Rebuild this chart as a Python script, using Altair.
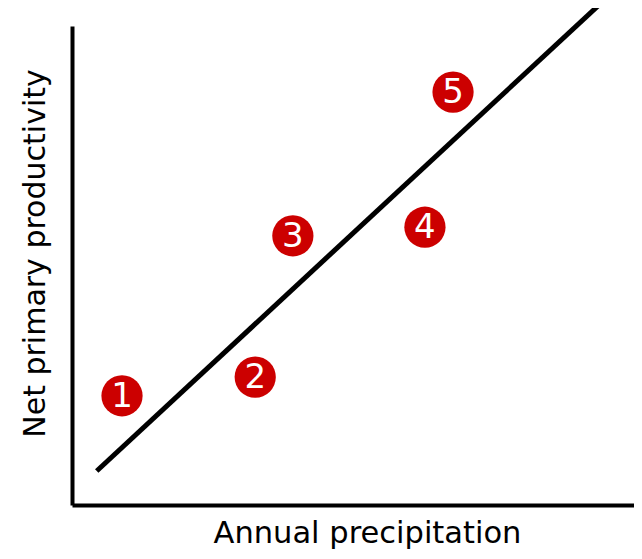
import altair as alt
import pandas as pd

# Data (arbitrary units)
labels = ["1", "2", "3", "4", "5"]
precip = [8.9, 32.6, 39.3, 62.8, 67.8]
npp = [22.8, 26.7, 56.2, 58.0, 86.2]

line_x = [4.4, 93.6]
line_y = [7.1, 104.2]

pts = pd.DataFrame({"label": labels, "x": precip, "y": npp})
trend = pd.DataFrame({"x": line_x, "y": line_y})

xs = alt.Scale(domain=[0, 100], nice=False, zero=False)
ys = alt.Scale(domain=[0, 100], nice=False, zero=False)

xaxis = alt.Axis(title="Annual precipitation", labels=False, ticks=False, grid=False,
                 domainColor="black", domainWidth=4, titleFontSize=30.5,
                 titleFont="DejaVu Sans", titleFontWeight="normal", titleColor="black",
                 titlePadding=13, titleX=295)
yaxis = alt.Axis(title="Net primary productivity", labels=False, ticks=False, grid=False,
                 domainColor="black", domainWidth=4, titleFontSize=30,
                 titleFont="DejaVu Sans", titleFontWeight="normal", titleColor="black",
                 titlePadding=22, titleY=227)

line = alt.Chart(trend).mark_line(color="black", strokeWidth=5, clip=False).encode(
    x=alt.X("x:Q", scale=xs, axis=xaxis),
    y=alt.Y("y:Q", scale=ys, axis=yaxis),
)

circles = alt.Chart(pts).mark_circle(size=1700, color="#cc0000", opacity=1).encode(
    x=alt.X("x:Q", scale=xs),
    y=alt.Y("y:Q", scale=ys),
)

text = alt.Chart(pts).mark_text(color="white", fontSize=34, font="DejaVu Sans",
                                align="center", baseline="middle", dy=1).encode(
    x=alt.X("x:Q", scale=xs),
    y=alt.Y("y:Q", scale=ys),
    text="label:N",
)

chart = alt.layer(line, circles, text).properties(
    width=562, height=479,
    autosize=alt.AutoSizeParams(type="none"),
    padding={"left": 64, "top": 18, "right": 0, "bottom": 46},
).configure(background="white").configure_view(stroke=None)

chart.save("out.html", embed_options={"renderer": "svg", "actions": False})
